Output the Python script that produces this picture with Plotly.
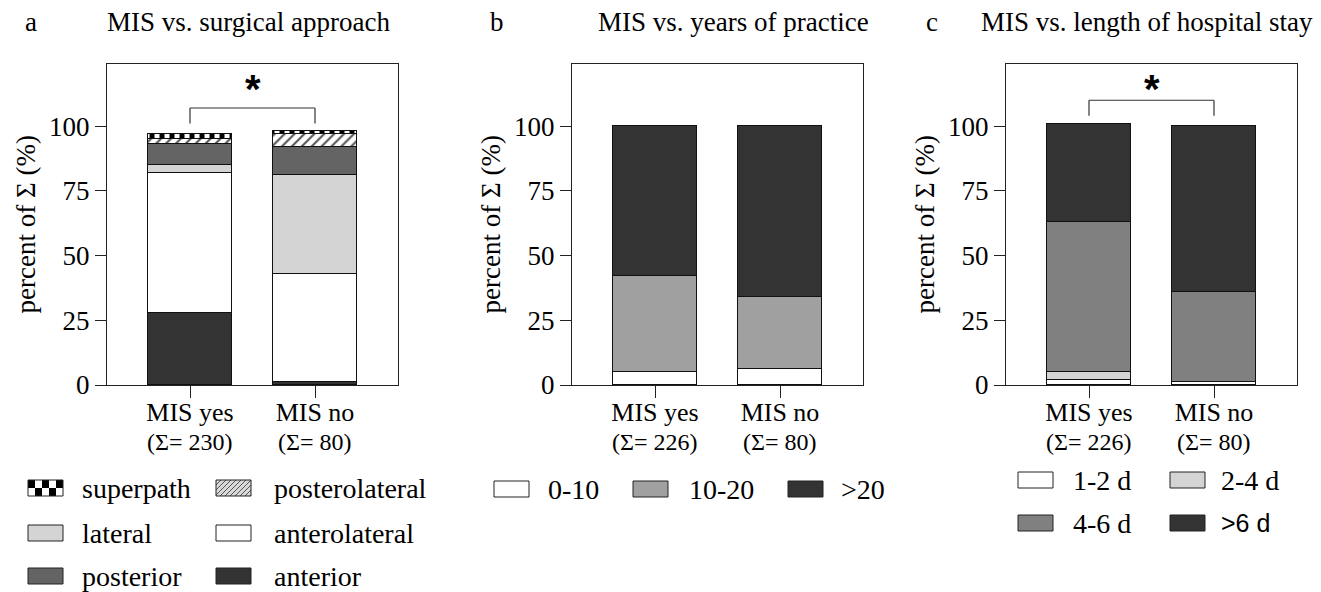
import plotly.graph_objects as go

W, H = 1321, 592
SERIF = "Liberation Serif"
SANS = "Liberation Sans"

# ---------------- data ----------------
categories = ["MIS yes", "MIS no"]

a_labels = ["anterior", "anterolateral", "lateral", "posterior", "posterolateral", "superpath"]
a_yes = [28, 54, 3, 8, 2, 2]
a_no = [1, 42, 38, 11, 5, 1]
a_n = [230, 80]

b_labels = ["0-10", "10-20", ">20"]
b_yes = [5, 37, 58]
b_no = [6, 28, 66]
b_n = [226, 80]

c_labels = ["1-2 d", "2-4 d", "4-6 d", ">6 d"]
c_yes = [2, 3, 58, 38]
c_no = [1, 0, 35, 64]
c_n = [226, 80]

y_ticks = [0, 25, 50, 75, 100]
titles = ["MIS vs. surgical approach", "MIS vs. years of practice", "MIS vs. length of hospital stay"]
letters = ["a", "b", "c"]
significant = [True, False, True]

# ---------------- styles ----------------
a_style = {
    "anterior": dict(color="#333333"),
    "anterolateral": dict(color="#ffffff"),
    "lateral": dict(color="#d4d4d4"),
    "posterior": dict(color="#646464"),
    "posterolateral": dict(color="#d9d9d9", pattern=dict(shape="/", fgcolor="#555555", size=7, solidity=0.3, fillmode="replace")),
    "superpath": dict(color="#ffffff", pattern=dict(shape="|", fgcolor="#000000", size=10, solidity=0.5, fillmode="replace")),
}
b_style = {"0-10": dict(color="#ffffff"), "10-20": dict(color="#a0a0a0"), ">20": dict(color="#333333")}
c_style = {"1-2 d": dict(color="#ffffff"), "2-4 d": dict(color="#d4d4d4"), "4-6 d": dict(color="#808080"), ">6 d": dict(color="#333333")}


def px(x):
    return x / W


def py(y):
    return 1 - y / H


frames = [(107, 398), (572, 863), (1006, 1297)]
top_px, bot_px = 64, 385
YMAX = 124

fig = go.Figure()

panels = [
    (a_labels, a_yes, a_no, a_n, a_style),
    (b_labels, b_yes, b_no, b_n, b_style),
    (c_labels, c_yes, c_no, c_n, c_style),
]

annotations = []
shapes = []

for i, (labels, yes, no, ns, style) in enumerate(panels):
    xa = "x" if i == 0 else f"x{i+1}"
    ya = "y" if i == 0 else f"y{i+1}"
    for lab, vy, vn in zip(labels, yes, no):
        st = style[lab]
        marker = dict(color=st["color"], line=dict(color="#111111", width=1))
        if "pattern" in st:
            marker["pattern"] = st["pattern"]
        fig.add_trace(go.Bar(x=categories, y=[vy, vn], name=lab, marker=marker,
                             width=0.672, xaxis=xa, yaxis=ya, showlegend=False,
                             hoverinfo="skip"))
    l, r = frames[i]
    axx = dict(domain=[px(l), px(r)], anchor=ya, type="category", range=[-0.664, 1.664],
               showline=True, linecolor="#222222", linewidth=1.2, mirror=True,
               ticks="outside", ticklen=12, tickwidth=1.2, tickcolor="#222222",
               tickvals=categories, ticktext=categories, automargin=False,
               ticklabelstandoff=-8,
               tickfont=dict(family=SERIF, size=26, color="#000000"),
               showgrid=False, zeroline=False, fixedrange=True)
    axy = dict(domain=[py(bot_px), py(top_px)], anchor=xa, range=[0, YMAX],
               showline=True, linecolor="#222222", linewidth=1.2, mirror=True,
               ticks="outside", ticklen=11, tickwidth=1.2, tickcolor="#222222",
               tickvals=y_ticks, ticktext=[str(t) for t in y_ticks], automargin=False,
               tickfont=dict(family=SERIF, size=27, color="#000000"),
               showgrid=False, zeroline=False, fixedrange=True)
    fig.update_layout(**{("xaxis" if i == 0 else f"xaxis{i+1}"): axx,
                         ("yaxis" if i == 0 else f"yaxis{i+1}"): axy})

    # Σ line under each category
    for k, cat in enumerate(categories):
        annotations.append(dict(x=k, y=py(442), xref=xa, yref="paper", text=f"(Σ= {ns[k]})",
                                showarrow=False, xanchor="center", yanchor="middle",
                                font=dict(family=SERIF, size=24, color="#000000")))
    # y title
    annotations.append(dict(x=px(l - 82), y=py((top_px + bot_px) / 2), xref="paper", yref="paper",
                            text="percent of Σ (%)", textangle=-90, showarrow=False,
                            xanchor="center", yanchor="middle",
                            font=dict(family=SERIF, size=27, color="#000000")))
    # significance bracket
    if significant[i]:
        tot = max(sum(yes), sum(no))
        y0 = tot + 3
        y1 = y0 + 6
        for (xx0, yy0, xx1, yy1) in [(0, y0, 0, y1), (0, y1, 1, y1), (1, y1, 1, y0)]:
            shapes.append(dict(type="line", xref=xa, yref=ya, x0=xx0, y0=yy0, x1=xx1, y1=yy1,
                               line=dict(color="#333333", width=1.2)))
        annotations.append(dict(x=0.5, y=114.5, xref=xa, yref=ya, text="<b>*</b>", showarrow=False,
                                xanchor="center", yanchor="middle",
                                font=dict(family=SANS, size=40, color="#000000")))

# titles and panel letters
letter_x = [31, 497, 932]
title_cx = [249, 733, 1147]
for i in range(3):
    annotations.append(dict(x=px(letter_x[i]), y=py(22), xref="paper", yref="paper", text=letters[i],
                            showarrow=False, xanchor="center", yanchor="middle",
                            font=dict(family=SERIF, size=27, color="#000000")))
    annotations.append(dict(x=px(title_cx[i]), y=py(22), xref="paper", yref="paper", text=titles[i],
                            showarrow=False, xanchor="center", yanchor="middle",
                            font=dict(family=SERIF, size=27, color="#000000")))

# ---------------- manual legends ----------------
SW, SH = 35, 16


def swatch(x, y, st):
    x0, y0, x1, y1 = x, y - SH / 2, x + SW, y + SH / 2
    out = []
    pat = st.get("pattern")
    out.append(dict(type="rect", xref="paper", yref="paper", x0=px(x0), x1=px(x1), y0=py(y1), y1=py(y0),
                    fillcolor=st["color"], line=dict(width=0)))
    if pat and pat["shape"] == "|":
        ncol, nrow = 5, 2
        cw, ch = SW / ncol, SH / nrow
        for r in range(nrow):
            for c in range(ncol):
                if (r + c) % 2 == 0:
                    out.append(dict(type="rect", xref="paper", yref="paper",
                                    x0=px(x0 + c * cw), x1=px(x0 + (c + 1) * cw),
                                    y0=py(y0 + (r + 1) * ch), y1=py(y0 + r * ch),
                                    fillcolor="#000000", line=dict(width=0)))
    elif pat and pat["shape"] == "/":
        h = y1 - y0
        cc = x0 - h
        while cc < x1:
            t0 = max(0, x0 - cc)
            t1 = min(h, x1 - cc)
            if t1 > t0:
                out.append(dict(type="line", xref="paper", yref="paper",
                                x0=px(cc + t0), y0=py(y1 - t0), x1=px(cc + t1), y1=py(y1 - t1),
                                line=dict(color="#555555", width=1)))
            cc += 5
    out.append(dict(type="rect", xref="paper", yref="paper", x0=px(x0), x1=px(x1), y0=py(y1), y1=py(y0),
                    fillcolor="rgba(0,0,0,0)", line=dict(color="#222222", width=1)))
    return out


def legend_text(x, y, text, fam=SERIF, size=28):
    return dict(x=px(x), y=py(y), xref="paper", yref="paper", text=text, showarrow=False,
                xanchor="left", yanchor="middle", align="left",
                font=dict(family=fam, size=size, color="#000000"))


# panel a legend (2 columns x 3 rows)
a_grid = [["superpath", "posterolateral"], ["lateral", "anterolateral"], ["posterior", "anterior"]]
a_cols, a_tcols, a_rows = [28, 216], [80, 272], [488, 533, 576]
for r, row in enumerate(a_grid):
    for c, lab in enumerate(row):
        shapes += swatch(a_cols[c], a_rows[r], a_style[lab])
        annotations.append(legend_text(a_tcols[c], a_rows[r], lab))

# panel b legend (1 row)
b_cols, b_tcols = [494, 633, 788], [546, 687, 839]
for c, lab in enumerate(b_labels):
    shapes += swatch(b_cols[c], 489, b_style[lab])
    annotations.append(legend_text(b_tcols[c], 489, lab))

# panel c legend (2 x 2)
c_grid = [["1-2 d", "2-4 d"], ["4-6 d", ">6 d"]]
c_cols, c_tcols, c_rows = [1018, 1170], [1071, 1219], [480, 523]
for r, row in enumerate(c_grid):
    for c, lab in enumerate(row):
        shapes += swatch(c_cols[c], c_rows[r], c_style[lab])
        if lab == ">6 d":
            annotations.append(legend_text(c_tcols[c], c_rows[r], lab, fam=SANS, size=25))
        else:
            annotations.append(legend_text(c_tcols[c], c_rows[r], lab))

fig.update_layout(
    template="none",
    width=W, height=H, margin=dict(l=0, r=0, t=0, b=0, pad=0, autoexpand=False),
    barmode="stack", bargap=0,
    paper_bgcolor="#ffffff", plot_bgcolor="#ffffff",
    showlegend=False,
    annotations=annotations, shapes=shapes,
    font=dict(family=SERIF, size=25, color="#000000"),
)

fig.write_html("out.html", config={"displayModeBar": False},
               post_script="document.body.style.margin='0';")
